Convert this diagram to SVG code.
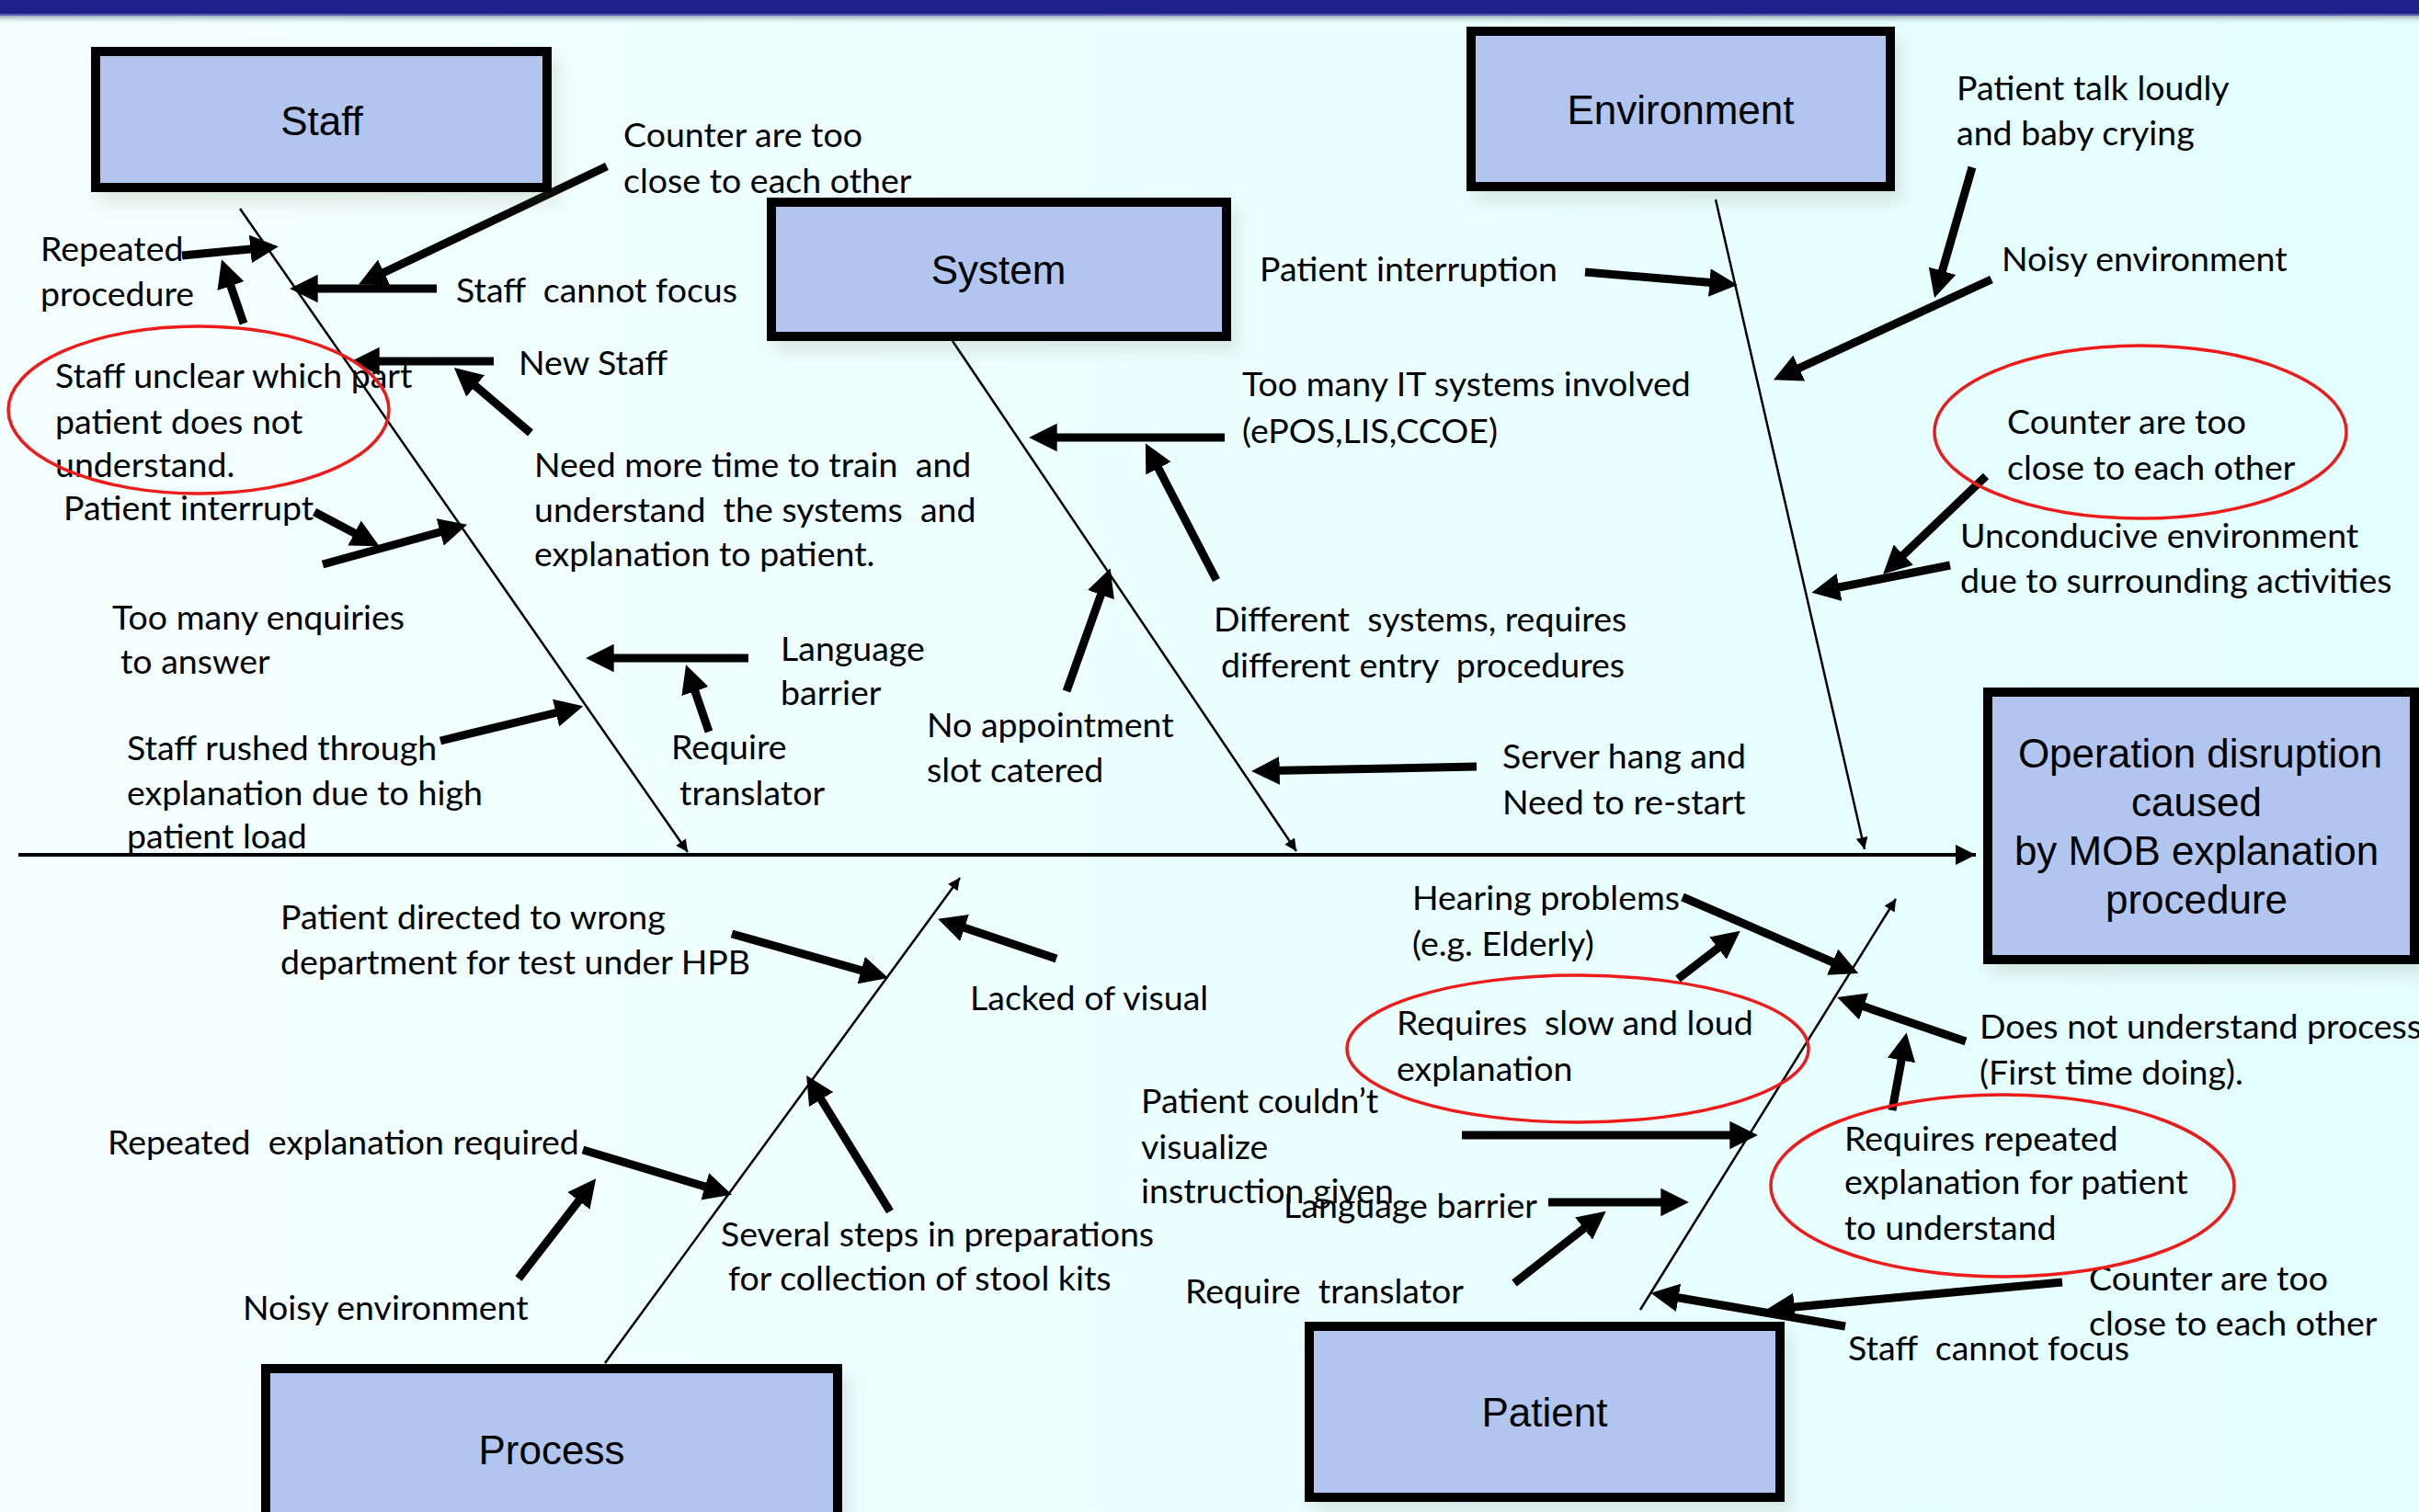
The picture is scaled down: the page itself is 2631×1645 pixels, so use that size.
<svg xmlns="http://www.w3.org/2000/svg" width="2631" height="1645" viewBox="0 0 2631 1645" xml:space="preserve">
<defs>
<style>
.box{fill:#B1C5EE;stroke:#000;stroke-width:10;filter:url(#sh)}
.bt{font-family:"Liberation Sans",Arial,sans-serif;font-size:44px;fill:#000;text-anchor:middle}
.t{font-family:Lato,"Open Sans",sans-serif;font-size:37.5px;fill:#000;white-space:pre}
.arw{fill:none;stroke:#000;stroke-width:9;marker-end:url(#ah)}
.bone{fill:none;stroke:#000;stroke-width:2.5;marker-end:url(#bh)}
.spine{fill:none;stroke:#000;stroke-width:4;marker-end:url(#sp)}
.ov{fill:none;stroke:#EE1B1B;stroke-width:3.5}
</style>
<linearGradient id="bg" x1="0" y1="0" x2="1" y2="0">
<stop offset="0" stop-color="#F5FFFF"/>
<stop offset="1" stop-color="#E3FFFF"/>
</linearGradient>
<linearGradient id="tshade" x1="0" y1="0" x2="0" y2="1">
<stop offset="0" stop-color="#9AAAB0"/>
<stop offset="1" stop-color="#E8FFFF" stop-opacity="0"/>
</linearGradient>
<filter id="sh" x="-10%" y="-10%" width="130%" height="140%">
<feDropShadow dx="8" dy="12" stdDeviation="9" flood-color="#7A7A60" flood-opacity="0.18"/>
</filter>
<marker id="ah" viewBox="0 0 10 10" refX="3.5" refY="5" markerWidth="3.4" markerHeight="3.4" orient="auto" markerUnits="strokeWidth">
<path d="M0,0 L10,5 L0,10 z" fill="#000"/>
</marker>
<marker id="bh" viewBox="0 0 10 10" refX="10" refY="5" markerWidth="20" markerHeight="13" orient="auto" markerUnits="userSpaceOnUse">
<path d="M0,0 L10,5 L0,10 z" fill="#000"/>
</marker>
<marker id="sp" viewBox="0 0 10 10" refX="10" refY="5" markerWidth="24" markerHeight="22" orient="auto" markerUnits="userSpaceOnUse">
<path d="M0,0 L10,5 L0,10 z" fill="#000"/>
</marker>
</defs>

<rect x="0" y="0" width="2631" height="1645" fill="url(#bg)"/>
<rect x="0" y="0" width="2631" height="15" fill="#20208A"/>
<rect x="0" y="15" width="2631" height="2" fill="#5A5AB4"/>
<rect x="0" y="17" width="2631" height="10" fill="url(#tshade)"/>

<g id="connectors">
<path class="spine" d="M20,930 L2149,930"/>
<path class="bone" d="M261,227 L748,927"/>
<path class="bone" d="M1036,371 L1410,926"/>
<path class="bone" d="M1866,217 L2028,924"/>
<path class="bone" d="M658,1483 L1044,955"/>
<path class="bone" d="M1784,1425 L2062,978"/>

<path class="arw" d="M660,181 L408,301"/>
<path class="arw" d="M475,314 L335,314"/>
<path class="arw" d="M198,278 L283,270"/>
<path class="arw" d="M265,352 L247.5,301"/>
<path class="arw" d="M537,393 L402,393"/>
<path class="arw" d="M577,471 L509,413"/>
<path class="arw" d="M342,557 L395,585"/>
<path class="arw" d="M351,614 L489,576"/>
<path class="arw" d="M479,806 L615,773"/>
<path class="arw" d="M814,716 L657,716"/>
<path class="arw" d="M771,796 L752.5,742"/>

<path class="arw" d="M1332,476 L1139,476"/>
<path class="arw" d="M1323,631 L1255,500"/>
<path class="arw" d="M1160,752 L1201,637"/>
<path class="arw" d="M1606,834 L1381,838.6"/>

<path class="arw" d="M1724,296 L1870,308.3"/>
<path class="arw" d="M2145,182 L2109.5,305"/>
<path class="arw" d="M2166,304 L1947,405"/>
<path class="arw" d="M2160,518 L2062.5,611"/>
<path class="arw" d="M2121,615 L1990,641"/>

<path class="arw" d="M796,1016 L947,1058.6"/>
<path class="arw" d="M1149,1043 L1039,1006"/>
<path class="arw" d="M968,1318 L887.5,1187"/>
<path class="arw" d="M634,1251 L777,1294"/>
<path class="arw" d="M564,1391 L636,1298"/>

<path class="arw" d="M1830,976 L2003,1051"/>
<path class="arw" d="M1825,1065 L1877,1025"/>
<path class="arw" d="M2138,1133 L2017,1091.5"/>
<path class="arw" d="M2058,1208 L2070,1143"/>
<path class="arw" d="M1590,1235 L1892,1235"/>
<path class="arw" d="M1684,1308 L1817,1308"/>
<path class="arw" d="M1647,1396 L1731,1330"/>
<path class="arw" d="M2243,1395 L1941,1423"/>
<path class="arw" d="M2007,1443 L1815,1410"/>
</g>

<g id="node-staff">
<rect class="box" x="104" y="56" width="491" height="148"/>
<text class="bt" x="350" y="147">Staff</text>
</g>
<g id="node-system">
<rect class="box" x="839" y="220" width="495" height="146"/>
<text class="bt" x="1086" y="309">System</text>
</g>
<g id="node-environment">
<rect class="box" x="1600" y="34" width="456" height="169"/>
<text class="bt" x="1828" y="135">Environment</text>
</g>
<g id="node-process">
<rect class="box" x="289" y="1489" width="622" height="220"/>
<text class="bt" x="600" y="1593">Process</text>
</g>
<g id="node-patient">
<rect class="box" x="1424" y="1443" width="512" height="186"/>
<text class="bt" x="1680" y="1552">Patient</text>
</g>
<g id="node-effect">
<rect class="box" x="2162" y="753" width="464" height="291"/>
<text class="bt" x="2393" y="835">Operation disruption</text>
<text class="bt" x="2389" y="888">caused</text>
<text class="bt" x="2389" y="941">by MOB explanation</text>
<text class="bt" x="2389" y="994">procedure</text>
</g>

<g id="causes-staff">
<text class="t" x="678" y="160">Counter are too</text>
<text class="t" x="678" y="210">close to each other</text>
<text class="t" x="44" y="284">Repeated</text>
<text class="t" x="44" y="333">procedure</text>
<text class="t" x="496" y="329">Staff  cannot focus</text>
<text class="t" x="60" y="422">Staff unclear which part</text>
<text class="t" x="60" y="472">patient does not</text>
<text class="t" x="60" y="519">understand.</text>
<text class="t" x="564" y="408">New Staff</text>
<text class="t" x="69" y="566">Patient interrupt</text>
<text class="t" x="581" y="519">Need more time to train  and</text>
<text class="t" x="581" y="568">understand  the systems  and</text>
<text class="t" x="581" y="616">explanation to patient.</text>
<text class="t" x="122" y="685">Too many enquiries</text>
<text class="t" x="131" y="733">to answer</text>
<text class="t" x="849" y="719">Language</text>
<text class="t" x="849" y="767">barrier</text>
<text class="t" x="730" y="826">Require</text>
<text class="t" x="739" y="876">translator</text>
<text class="t" x="138" y="827">Staff rushed through</text>
<text class="t" x="138" y="876">explanation due to high</text>
<text class="t" x="138" y="923">patient load</text>
<ellipse class="ov" cx="216" cy="446" rx="207" ry="91"/>
</g>

<g id="causes-system">
<text class="t" x="1370" y="306">Patient interruption</text>
<text class="t" x="1351" y="431">Too many IT systems involved</text>
<text class="t" x="1351" y="482">(ePOS,LIS,CCOE)</text>
<text class="t" x="1320" y="687">Different  systems, requires</text>
<text class="t" x="1328" y="737">different entry  procedures</text>
<text class="t" x="1008" y="802">No appointment</text>
<text class="t" x="1008" y="851">slot catered</text>
<text class="t" x="1634" y="836">Server hang and</text>
<text class="t" x="1634" y="886">Need to re-start</text>
</g>

<g id="causes-environment">
<text class="t" x="2128" y="109">Patient talk loudly</text>
<text class="t" x="2128" y="158">and baby crying</text>
<text class="t" x="2177" y="295">Noisy environment</text>
<text class="t" x="2183" y="472">Counter are too</text>
<text class="t" x="2183" y="522">close to each other</text>
<text class="t" x="2132" y="596">Unconducive environment</text>
<text class="t" x="2132" y="645">due to surrounding activities</text>
<ellipse class="ov" cx="2328" cy="470" rx="224" ry="94"/>
</g>

<g id="causes-process">
<text class="t" x="305" y="1011">Patient directed to wrong</text>
<text class="t" x="305" y="1060">department for test under HPB</text>
<text class="t" x="1055" y="1099">Lacked of visual</text>
<text class="t" x="117" y="1256">Repeated  explanation required</text>
<text class="t" x="784" y="1356">Several steps in preparations</text>
<text class="t" x="792" y="1404">for collection of stool kits</text>
<text class="t" x="264" y="1436">Noisy environment</text>
</g>

<g id="causes-patient">
<text class="t" x="1536" y="990">Hearing problems</text>
<text class="t" x="1536" y="1040">(e.g. Elderly)</text>
<text class="t" x="1519" y="1126">Requires  slow and loud</text>
<text class="t" x="1519" y="1176">explanation</text>
<text class="t" x="2153" y="1130">Does not understand process</text>
<text class="t" x="2153" y="1180">(First time doing).</text>
<text class="t" x="1241" y="1211">Patient couldn’t</text>
<text class="t" x="1241" y="1261">visualize</text>
<text class="t" x="1241" y="1309">instruction given</text>
<text class="t" x="1396" y="1325">Language barrier</text>
<text class="t" x="2006" y="1252">Requires repeated</text>
<text class="t" x="2006" y="1299">explanation for patient</text>
<text class="t" x="2006" y="1349">to understand</text>
<text class="t" x="1289" y="1418">Require  translator</text>
<text class="t" x="2272" y="1404">Counter are too</text>
<text class="t" x="2272" y="1453">close to each other</text>
<text class="t" x="2010" y="1480">Staff  cannot focus</text>
<ellipse class="ov" cx="1716" cy="1141" rx="251" ry="80"/>
<ellipse class="ov" cx="2178" cy="1290" rx="252" ry="99"/>
</g>
</svg>
